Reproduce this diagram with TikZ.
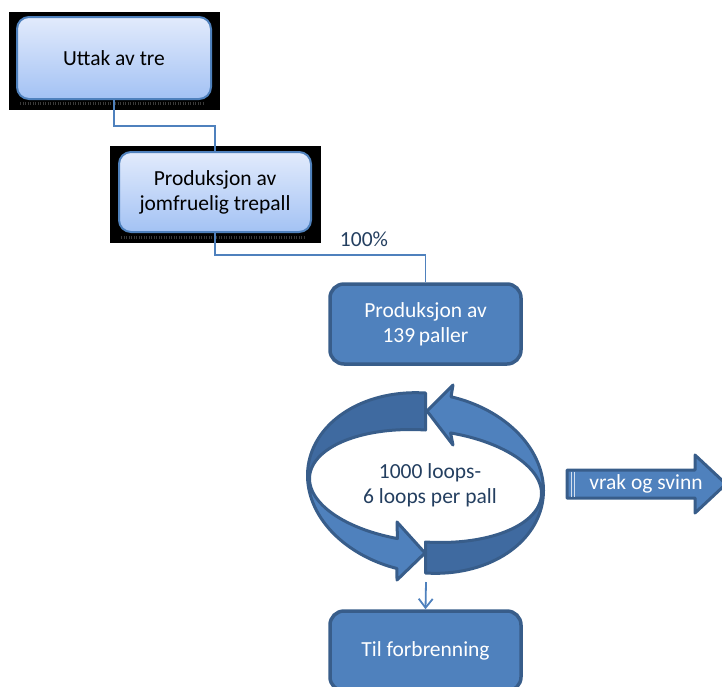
\documentclass[tikz,border=0pt]{standalone}
\usepackage{fontspec}
\setmainfont{Carlito}
\usetikzlibrary{arrows.meta}
\definecolor{accent}{HTML}{4F81BD}
\definecolor{accentdark}{HTML}{385D8A}
\definecolor{bandback}{HTML}{3F6AA0}
\definecolor{lighttop}{HTML}{E2EBFC}
\definecolor{lightbot}{HTML}{A3C2F4}
\definecolor{navytext}{HTML}{243F60}
\begin{document}
\begin{tikzpicture}[x=1pt,y=-1pt,
  font=\fontsize{21.5}{25}\selectfont,
  lightbox/.style={rectangle, rounded corners=12pt, draw=accent, line width=2pt, top color=lighttop, bottom color=lightbot, align=center, text=black, inner sep=0pt},
  darkbox/.style={rectangle, rounded corners=14pt, draw=accentdark, line width=3.5pt, fill=accent, align=center, text=white, inner sep=0pt},
  conn/.style={draw=accent, line width=1.8pt},
  ringback/.style={fill=bandback, draw=accentdark, line width=3pt, line join=round},
  ringfront/.style={fill=accent, draw=accentdark, line width=3pt, line join=round},
  shadowbox/.style={fill=black},
  grain/.style={draw=gray!45!black, line width=3pt, dash pattern=on 1pt off 1.5pt}
]
\useasboundingbox (0,0) rectangle (722,686);
\clip (0,0) rectangle (722,686);

% shadow artefacts behind the light boxes
\fill[shadowbox] (9,12) rectangle (220,110);
\draw[grain] (20,103) -- (205,103);
\fill[shadowbox] (110,146) rectangle (321,243);
\draw[grain] (121,237) -- (305,237);

% boxes
\node[lightbox, minimum width=194pt, minimum height=82pt] (b1) at (114,58) {Uttak av tre};
\node[lightbox, minimum width=192pt, minimum height=80pt] (b2) at (215,192) {Produksjon av\\jomfruelig trepall};
\node[darkbox, minimum width=191pt, minimum height=80pt] (b3) at (425.5,324) {Produksjon av\\139\,paller};
\node[darkbox, minimum width=191pt, minimum height=80pt] (b4) at (425.5,651) {Til forbrenning};

% connectors
\draw[conn] (b1.south) -- ++(0,26) -| (b2.north);
\draw[conn] (b2.south) -- ++(0,22) -| (b3.north);
\node[text=navytext] (pct) at (364,239) {100\%};

% circular arrow: back bands
\path[ringback] plot[domain=90:180,samples=40,variable=\t] ({425.5+118*cos(\t)},{483-90*sin(\t)+7.55*cos(\t)})
  -- plot[domain=180:90,samples=40,variable=\t] ({425.5+116*cos(\t)},{486-56*sin(\t)+7.42*cos(\t)}) -- cycle;
\path[ringback] plot[domain=270:360,samples=40,variable=\t] ({425.5+118*cos(\t)},{483-90*sin(\t)+7.55*cos(\t)})
  -- plot[domain=360:270,samples=40,variable=\t] ({425.5+116*cos(\t)},{486-56*sin(\t)+7.42*cos(\t)}) -- cycle;
% circular arrow: front arrows
\path[ringfront] plot[domain=0:77.5,samples=40,variable=\t] ({425.5+118*cos(\t)},{483-90*sin(\t)+7.55*cos(\t)})
  -- (453,385) -- (427,411) -- (453,445)
  -- plot[domain=77.5:0,samples=40,variable=\t] ({425.5+116*cos(\t)},{486-56*sin(\t)+7.42*cos(\t)}) -- cycle;
\path[ringfront] plot[domain=180:256,samples=40,variable=\t] ({425.5+118*cos(\t)},{483-90*sin(\t)+7.55*cos(\t)})
  -- (397,580) -- (425,553) -- (397,522)
  -- plot[domain=256:180,samples=40,variable=\t] ({425.5+116*cos(\t)},{486-56*sin(\t)+7.42*cos(\t)}) -- cycle;
\node[text=navytext, align=center] (loop) at (430,485) {1000 loops-\\6 loops per pall};

% arrow down to incineration
\coordinate (loopout) at (426,582);
\draw[conn, -{Straight Barb[length=9pt,width=14pt]}] (loopout) -- (b4.north);

% vrak og svinn arrow
\path[ringfront] (567,470) -- (695,470) -- (695,455) -- (726,484) -- (695,513) -- (695,498) -- (567,498) -- cycle;
\draw[white!75!accent, line width=0.7pt] (571,471.5) -- (571,496.5) (574.5,471.5) -- (574.5,496.5);
\node[text=white] (vrak) at (646,484) {vrak og svinn};
\end{tikzpicture}
\end{document}
